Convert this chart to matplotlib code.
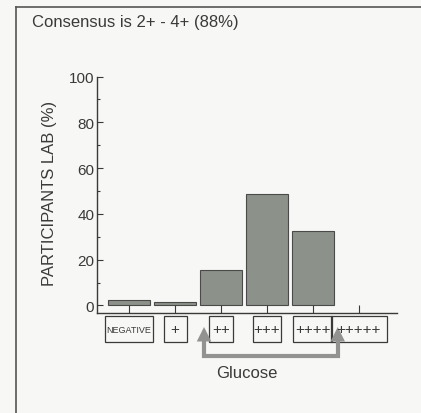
import matplotlib
matplotlib.use('Agg')
import matplotlib.pyplot as plt
from matplotlib.patches import Rectangle, FancyArrowPatch
from matplotlib.path import Path
import matplotlib.transforms as mtransforms

plt.rcParams['font.family'] = ['Liberation Sans', 'DejaVu Sans']

categories = ['NEGATIVE', '+', '++', '+++', '++++', '+++++']
percent = [2.6, 1.6, 15.3, 48.8, 32.5, 0]
label_sizes = [6.5, 11, 11, 11, 11, 11]
box_widths = [1.04, 0.5, 0.52, 0.61, 0.85, 1.22]
title = 'Consensus is 2+ - 4+ (88%)'

ink = '#3a3a3a'
bg = '#f7f7f5'

fig = plt.figure(figsize=(4.21, 4.14), dpi=100, facecolor=bg)
ax = fig.add_axes([0.2304, 0.2415, 0.7126, 0.5713], facecolor=bg)

x = list(range(len(categories)))
edge_w = [0.8 if p > 0 else 0 for p in percent]
ax.bar(x, percent, width=0.92, color='#8c918a', edgecolor='#4a4a4a', linewidth=edge_w)

ax.set_xlim(-0.70, 5.83)
ax.set_ylim(-3.3, 100)
ax.set_yticks([0, 20, 40, 60, 80, 100])
ax.set_yticks([10, 30, 50, 70, 90], minor=True)
ax.set_xticks(x)
ax.set_xticklabels([])
ax.tick_params(axis='y', direction='in', length=4, width=0.8, colors=ink,
               labelsize=11, pad=2)
ax.tick_params(axis='y', which='minor', direction='in', length=2.5, width=0.8, colors=ink)
ax.tick_params(axis='x', direction='in', length=5.5, width=0.8, colors=ink)
for s in ['top', 'right']:
    ax.spines[s].set_visible(False)
for s in ['left', 'bottom']:
    ax.spines[s].set_color(ink)
    ax.spines[s].set_linewidth(1.0)

# boxed category labels under the axis
trans = mtransforms.blended_transform_factory(ax.transData, ax.transAxes)
for i, (lab, fs, w) in enumerate(zip(categories, label_sizes, box_widths)):
    ax.add_patch(Rectangle((i - w / 2, -0.123), w, 0.11, transform=trans,
                           fill=False, edgecolor=ink, linewidth=0.9, clip_on=False))
    ax.text(i, -0.068, lab, transform=trans, ha='center', va='center',
            fontsize=fs, color=ink, clip_on=False)

# consensus bracket arrow (2+ to 4+)
verts = [(1.63, -9.4), (1.63, -22), (4.54, -22), (4.54, -9.4)]
path = Path(verts, [Path.MOVETO, Path.LINETO, Path.LINETO, Path.LINETO])
arrow = FancyArrowPatch(path=path, arrowstyle='<|-|>', mutation_scale=14,
                        color='#929290', linewidth=3, clip_on=False,
                        joinstyle='miter')
ax.add_patch(arrow)

ax.set_xlabel('Glucose', fontsize=12, color=ink)
ax.xaxis.set_label_coords(0.5, -0.22)

fig.text(50 / 421, 1 - 193 / 414, 'PARTICIPANTS LAB (%)', rotation=90,
         ha='center', va='center', fontsize=12, color=ink)
fig.text(32 / 421, 1 - 22 / 414, title, ha='left', va='center',
         fontsize=12, color=ink)

# outer frame (left and top edges)
fig.add_artist(plt.Line2D([16 / 421, 16 / 421], [0, 1 - 8 / 414],
                          color='#555555', linewidth=1.2))
fig.add_artist(plt.Line2D([16 / 421, 1], [1 - 8 / 414, 1 - 8 / 414],
                          color='#555555', linewidth=1.2))

fig.savefig('out.png', dpi=100, facecolor=bg)
